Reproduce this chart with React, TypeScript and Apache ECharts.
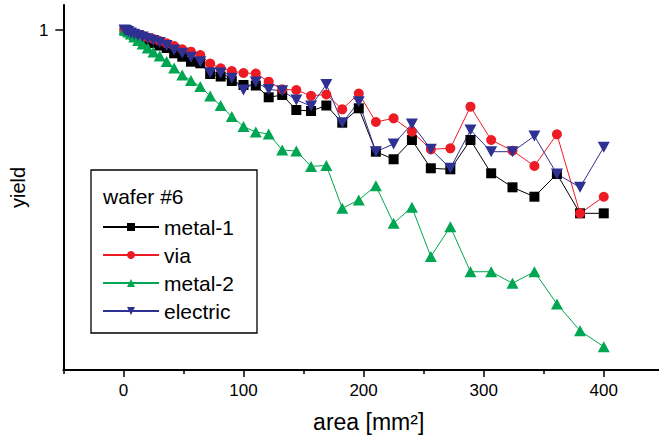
import React, { useEffect, useRef } from "react";
import * as echarts from "echarts";

// chip area [mm²]
const areas = [
  1, 2.25, 4, 6.25, 9, 12.25, 16, 20.25, 25, 30.25, 36, 42.25, 49, 56.25, 64,
  72.25, 81, 90.25, 100, 110.25, 121, 132.25, 144, 156.25, 169, 182.25, 196,
  210.25, 225, 240.25, 256, 272.25, 289, 306.25, 324, 342.25, 361, 380.25, 400,
];

const metal1 = [
  1.0, 0.9954, 0.9886, 0.9801, 0.9716, 0.9633, 0.9522, 0.9413, 0.9279, 0.9146,
  0.9016, 0.8745, 0.8575, 0.8332, 0.8256, 0.7762, 0.7651, 0.7456, 0.7286,
  0.7265, 0.6788, 0.6879, 0.631, 0.6273, 0.6475, 0.5865, 0.6372, 0.4963,
  0.4751, 0.5309, 0.4511, 0.4485, 0.5309, 0.4383, 0.4043, 0.383, 0.4365,
  0.3481, 0.3481,
];

const via = [
  1.0, 0.998, 0.9943, 0.9886, 0.9812, 0.9744, 0.9672, 0.9577, 0.9495, 0.9386,
  0.9263, 0.912, 0.8948, 0.8826, 0.866, 0.8246, 0.8021, 0.7898, 0.7808,
  0.7785, 0.7426, 0.7108, 0.708, 0.6847, 0.6899, 0.6335, 0.6938, 0.5889,
  0.6015, 0.5569, 0.5032, 0.5061, 0.6431, 0.5309, 0.4992, 0.4571, 0.5486,
  0.3481, 0.383,
];

const metal2 = [
  1.0, 0.997, 0.9886, 0.9772, 0.9605, 0.9413, 0.9226, 0.9016, 0.8811, 0.861,
  0.8342, 0.8035, 0.7718, 0.7477, 0.7223, 0.6839, 0.6475, 0.6078, 0.5738,
  0.5559, 0.5495, 0.5012, 0.4983, 0.456, 0.4586, 0.3583, 0.3758, 0.4081,
  0.3287, 0.3604, 0.2715, 0.3223, 0.2487, 0.2487, 0.2327, 0.2487, 0.2066,
  0.1771, 0.1615,
];

const electric = [
  1.0, 0.9971, 0.9914, 0.9829, 0.9756, 0.9688, 0.9605, 0.9506, 0.9413, 0.9306,
  0.9146, 0.8913, 0.8745, 0.8546, 0.8332, 0.7821, 0.7808, 0.7573, 0.708,
  0.7414, 0.71, 0.7051, 0.6683, 0.6456, 0.7307, 0.5854, 0.6619, 0.4963,
  0.5188, 0.5821, 0.5032, 0.4511, 0.5623, 0.4963, 0.4963, 0.5432, 0.4365,
  0.4043, 0.5091,
];

const xMajorTicks = [0, 100, 200, 300, 400];
const xMinorTicks = [-50, 50, 150, 250, 350];
const yTicks = [1];
const seriesNames = ["metal-1", "via", "metal-2", "electric"];

const FONT = "'Liberation Sans', Arial, Helvetica, sans-serif";

export default function App() {
  const ref = useRef<HTMLDivElement>(null);

  useEffect(() => {
    if (!ref.current) return;
    const chart = echarts.init(ref.current, undefined, { renderer: "svg" });
    const pair = (vals: number[]) => areas.map((a, i) => [a, vals[i]]);

    const option: any = {
      animation: false,
      backgroundColor: "#ffffff",
      textStyle: { fontFamily: FONT },
      grid: { left: 62, right: 0, top: 5, bottom: 69, containLabel: false },
      xAxis: [
        {
          type: "value",
          min: -50,
          max: 446,
          position: "bottom",
          name: "area [mm²]",
          nameLocation: "middle",
          nameGap: 40,
          nameTextStyle: {
            fontSize: 23,
            color: "#000",
            fontFamily: FONT,
            padding: [0, 0, 0, 15],
          },
          axisLine: { show: true, onZero: false, lineStyle: { color: "#000", width: 2 } },
          axisTick: {
            show: true,
            length: 7,
            customValues: xMajorTicks,
            lineStyle: { color: "#000", width: 1.5 },
          },
          axisLabel: {
            show: true,
            customValues: xMajorTicks,
            fontSize: 17,
            color: "#000",
            margin: 12,
            fontFamily: FONT,
          },
          splitLine: { show: false },
        },
        {
          type: "value",
          min: -50,
          max: 446,
          position: "bottom",
          axisLine: { show: false, onZero: false },
          axisTick: {
            show: true,
            length: 4,
            customValues: xMinorTicks,
            lineStyle: { color: "#000", width: 1.5 },
          },
          axisLabel: { show: false },
          splitLine: { show: false },
        },
      ],
      yAxis: [
        {
          type: "log",
          logBase: 10,
          min: 0.14125,
          max: 1.1548,
          position: "left",
          name: "yield",
          nameLocation: "middle",
          nameGap: 35,
          nameRotate: 90,
          nameTextStyle: { fontSize: 20, color: "#000", fontFamily: FONT },
          axisLine: { show: true, onZero: false, lineStyle: { color: "#000", width: 2 } },
          axisTick: {
            show: true,
            length: 8,
            customValues: yTicks,
            lineStyle: { color: "#000", width: 1.5 },
          },
          axisLabel: {
            show: true,
            customValues: yTicks,
            fontSize: 17,
            color: "#000",
            margin: 15,
            fontFamily: FONT,
          },
          splitLine: { show: false },
        },
      ],
      legend: {
        data: seriesNames,
        orient: "vertical",
        left: 102,
        top: 216,
        padding: 0,
        itemWidth: 56,
        itemHeight: 10,
        itemGap: 6,
        textStyle: { fontSize: 21, color: "#000", fontFamily: FONT, lineHeight: 22 },
      },
      graphic: [
        {
          type: "rect",
          z: 1,
          shape: { x: 91, y: 170, width: 166, height: 163 },
          style: { fill: "none", stroke: "#000", lineWidth: 1.3 },
        },
        {
          type: "text",
          z: 5,
          x: 103,
          y: 196,
          style: {
            text: "wafer #6",
            fontSize: 21,
            fontFamily: FONT,
            fill: "#000",
            textVerticalAlign: "middle",
          },
        },
      ],
      series: [
        {
          name: "metal-1",
          type: "line",
          data: pair(metal1),
          symbol: "rect",
          symbolSize: 10,
          itemStyle: { color: "#000000" },
          lineStyle: { color: "#000000", width: 1 },
        },
        {
          name: "via",
          type: "line",
          data: pair(via),
          symbol: "circle",
          symbolSize: 10,
          itemStyle: { color: "#ED1C24" },
          lineStyle: { color: "#ED1C24", width: 1 },
        },
        {
          name: "metal-2",
          type: "line",
          data: pair(metal2),
          symbol: "triangle",
          symbolSize: [12, 11],
          itemStyle: { color: "#00A651" },
          lineStyle: { color: "#00A651", width: 1 },
        },
        {
          name: "electric",
          type: "line",
          data: pair(electric),
          symbol: "triangle",
          symbolRotate: 180,
          symbolSize: [12, 11],
          itemStyle: { color: "#2E3192" },
          lineStyle: { color: "#2E3192", width: 1 },
        },
      ],
    };

    chart.setOption(option);
    return () => chart.dispose();
  }, []);

  return (
    <div
      ref={ref}
      style={{ position: "absolute", left: 0, top: 0, width: 659, height: 439 }}
    />
  );
}
